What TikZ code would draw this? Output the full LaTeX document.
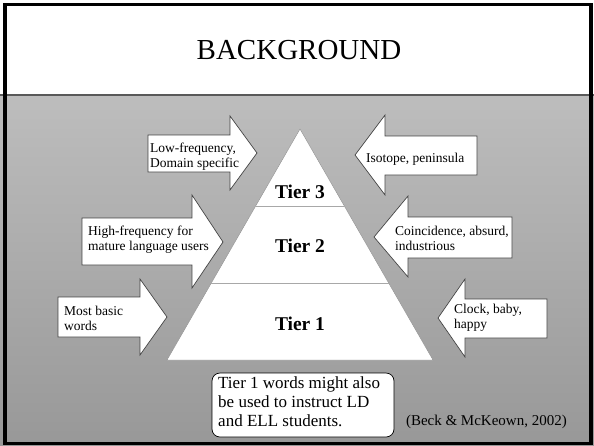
\documentclass[tikz,border=0pt]{standalone}
\usepackage{fontspec}
\setmainfont{Liberation Serif}
\definecolor{bgtop}{HTML}{BDBDBD}
\definecolor{bgbot}{HTML}{989898}
\definecolor{edge}{HTML}{444444}
\definecolor{tierline}{HTML}{A8A8A8}
\tikzset{
  arrowshape/.style={fill=white, draw=edge, line width=0.7pt, line join=miter},
  arrowtext/.style={anchor=base west, inner sep=0pt, font=\fontsize{13.5}{15}\selectfont},
  tiertext/.style={anchor=base, inner sep=0pt, font=\fontsize{19.5}{22}\selectfont\bfseries},
  notetext/.style={anchor=base west, inner sep=0pt, font=\fontsize{17}{19}\selectfont},
  notebox/.style={draw=black, fill=white, rounded corners=8pt, line width=0.7pt,
    minimum width=182pt, minimum height=64pt, inner sep=0pt},
}
\begin{document}
\begin{tikzpicture}[x=1pt,y=-1pt]
\useasboundingbox (0,0) rectangle (594,445);
% title area and body
\fill[white] (0,0) rectangle (594,95);
\shade[top color=bgtop, bottom color=bgbot] (0,95) rectangle (594,445);
\draw[draw=black!65, line width=1.5pt] (0,95) -- (594,95);
\draw[black, line width=3.5pt] (5,4.5) rectangle (591,443.5);
\node[inner sep=0pt, anchor=base, font=\fontsize{29}{32}\selectfont] (title) at (299,59) {BACKGROUND};

% pyramid
\filldraw[fill=white, draw=black!45, line width=0.4pt] (300,129) -- (433,360) -- (167,360) -- cycle;
\coordinate (l3a) at (255.7,206); \coordinate (l3b) at (344.3,206);
\coordinate (l2a) at (211.3,283); \coordinate (l2b) at (388.7,283);
\draw[tierline, line width=1pt] (l3a) -- (l3b);
\draw[tierline, line width=1pt] (l2a) -- (l2b);
\node[tiertext] (t3) at (300,198) {Tier 3};
\node[tiertext] (t2) at (300,252) {Tier 2};
\node[tiertext] (t1) at (300,330) {Tier 1};

% left arrows (pointing right)
\draw[arrowshape] (148,135) -- (230,135) -- (230,116) -- (257,153) -- (230,190) -- (230,172) -- (148,172) -- cycle;
\node[arrowtext] (la1) at (150,152) {Low-frequency,};
\node[arrowtext] (la2) at (150,167) {Domain specific};

\draw[arrowshape] (82,218) -- (192,218) -- (192,195) -- (223,242) -- (192,288) -- (192,265) -- (82,265) -- cycle;
\node[arrowtext] (lb1) at (88,235) {High-frequency for};
\node[arrowtext] (lb2) at (88,250) {mature language users};

\draw[arrowshape] (58,297) -- (140,297) -- (140,279) -- (167,317) -- (140,355) -- (140,337) -- (58,337) -- cycle;
\node[arrowtext] (lc1) at (64,315) {Most basic};
\node[arrowtext] (lc2) at (64,330) {words};

% right arrows (pointing left)
\draw[arrowshape] (477,136) -- (385,136) -- (385,115) -- (355,155) -- (385,195) -- (385,175) -- (477,175) -- cycle;
\node[arrowtext] (ra1) at (366,162) {Isotope, peninsula};

\draw[arrowshape] (512,217) -- (408,217) -- (408,196) -- (374,237) -- (408,277) -- (408,258) -- (512,258) -- cycle;
\node[arrowtext] (rb1) at (395,235) {Coincidence, absurd,};
\node[arrowtext] (rb2) at (395,250) {industrious};

\draw[arrowshape] (547,299) -- (465,299) -- (465,279) -- (438,318) -- (465,357) -- (465,338) -- (547,338) -- cycle;
\node[arrowtext] (rc1) at (454,313) {Clock, baby,};
\node[arrowtext] (rc2) at (454,328) {happy};

% note
\node[notebox] (note) at (303,405) {};
\node[notetext] (n1) at (218,388) {Tier 1 words might also};
\node[notetext] (n2) at (218,407) {be used to instruct LD};
\node[notetext] (n3) at (218,426) {and ELL students.};

\node[inner sep=0pt, anchor=base east, font=\fontsize{15}{17}\selectfont] (cite) at (567,425) {(Beck \& McKeown, 2002)};
\end{tikzpicture}
\end{document}
